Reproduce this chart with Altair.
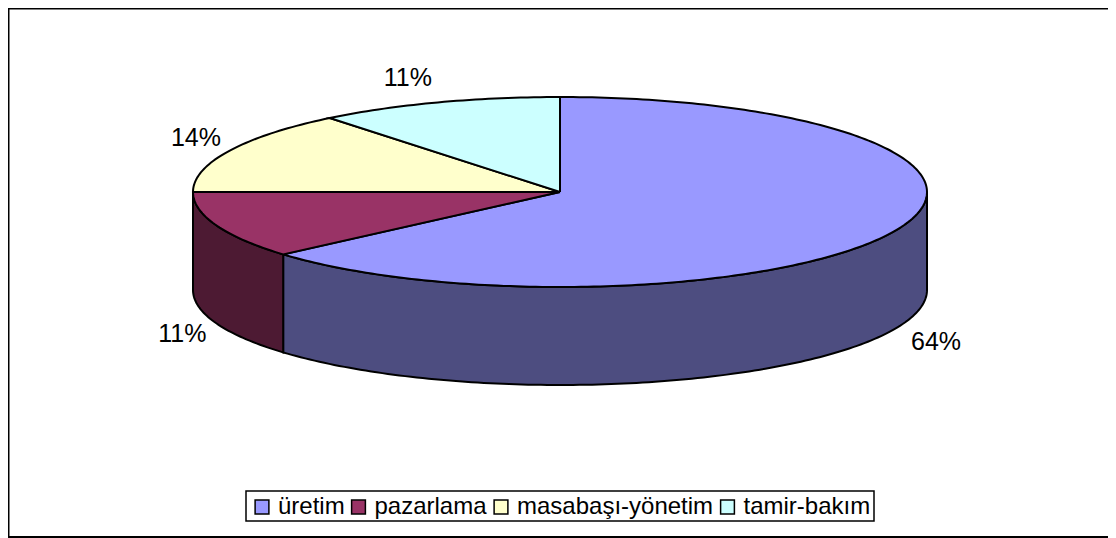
import math
import altair as alt
import pandas as pd

categories = ["üretim", "pazarlama", "masabaşı-yönetim", "tamir-bakım"]
shares = [63.6, 11.4, 14.2, 10.8]
labels = ["64%", "11%", "14%", "11%"]
top_colors = ["#9999FF", "#993366", "#FFFFCC", "#CCFFFF"]
side_colors = ["#4D4D80", "#4D1A33", "#808066", "#668080"]
# label offset from the wedge's rim point, in pixels
label_dx = [42, -34, -33, -30]
label_dy = [13, 11, -13, -24]

W, H = 1100, 530
CX, CY, RX, RY, DEPTH = 552, 184, 367, 95, 98  # pie geometry inside the plot area
BOX = (238, 866, 483, 513)  # legend frame: left, right, top, bottom
FONT = "Liberation Sans"


def rim(angle_deg):
    a = math.radians(angle_deg)
    return math.sin(a), -math.cos(a)


tops, sides, texts = [], [], []
start = 0.0
for cat, share, side, lab, dx, dy in zip(categories, shares, side_colors, labels, label_dx, label_dy):
    a0, a1 = start * 3.6, (start + share) * 3.6
    n = max(2, int(a1 - a0) + 1)
    arc = [a0 + (a1 - a0) * i / (n - 1) for i in range(n)]
    pts = [(0.0, 0.0)] + [rim(a) for a in arc] + [(0.0, 0.0)]
    for i, (u, v) in enumerate(pts):
        tops.append({"cat": cat, "i": i, "x": CX + RX * u, "y": CY + RY * v})
    # visible outer wall: lower half of the rim only
    lo, hi = max(a0, 90), min(a1, 270)
    if hi > lo:
        m = int(hi - lo) + 2
        wall = [lo + (hi - lo) * i / (m - 1) for i in range(m)]
        up = [(CX + RX * rim(a)[0], CY + RY * rim(a)[1]) for a in wall]
        down = [(x, y + DEPTH) for x, y in reversed(up)]
        ring = up + down + up[:1]
        for i, (x, y) in enumerate(ring):
            sides.append({"cat": cat, "color": side, "i": i, "x": x, "y": y})
    mid = (a0 + a1) / 2
    mu, mv = rim(mid)
    base = DEPTH if 90 < mid < 270 else 0
    texts.append({"x": CX + RX * mu + dx, "y": CY + RY * mv + base + dy, "label": lab})
    start += share

xs = alt.Scale(domain=[0, W], range=[0, W])
ys = alt.Scale(domain=[0, H], range=[0, H])
X = alt.X("x:Q", scale=xs, axis=None)
Y = alt.Y("y:Q", scale=ys, axis=None)

side_layer = alt.Chart(pd.DataFrame(sides)).mark_line(filled=True, stroke="black", strokeWidth=2).encode(
    x=X, y=Y, order="i:Q",
    fill=alt.Fill("color:N", scale=None),
    detail="cat:N",
)
top_layer = alt.Chart(pd.DataFrame(tops)).mark_line(filled=True, stroke="black", strokeWidth=2).encode(
    x=X, y=Y, order="i:Q",
    fill=alt.Fill(
        "cat:N",
        scale=alt.Scale(domain=categories, range=top_colors),
        legend=alt.Legend(
            title=None, orient="none", legendX=242, legendY=487, direction="horizontal", columns=4,
            symbolType="square", symbolSize=190, symbolStrokeColor="black", symbolStrokeWidth=1.5,
            labelFont=FONT, labelFontSize=24, labelColor="black", labelLimit=300,
            padding=0, columnPadding=1.5, labelOffset=4, symbolOpacity=1,
        ),
    ),
)
text_layer = alt.Chart(pd.DataFrame(texts)).mark_text(font=FONT, fontSize=25, color="black").encode(
    x=X, y=Y, text="label:N"
)
box_layer = alt.Chart(pd.DataFrame([{"x": BOX[0], "x2": BOX[1], "y": BOX[2], "y2": BOX[3]}])).mark_rect(
    fill="white", stroke="black", strokeWidth=1.5
).encode(x=alt.X("x:Q", scale=xs, axis=None), x2="x2:Q", y=alt.Y("y:Q", scale=ys, axis=None), y2="y2:Q")
top_rule = alt.Chart(pd.DataFrame({"y": [0.5, 529]})).mark_rule(color="black", strokeWidth=2).encode(
    y=alt.Y("y:Q", scale=ys, axis=None)
)
left_rule = alt.Chart(pd.DataFrame({"x": [0.5]})).mark_rule(color="black", strokeWidth=2).encode(
    x=alt.X("x:Q", scale=xs, axis=None)
)

chart = (
    alt.layer(top_rule, left_rule, box_layer, side_layer, top_layer, text_layer)
    .properties(width=W, height=H, padding=0, autosize=alt.AutoSizeParams(type="none"))
    .configure_view(stroke=None)
)
chart.save("out.html", embed_options={"renderer": "svg", "actions": False})
